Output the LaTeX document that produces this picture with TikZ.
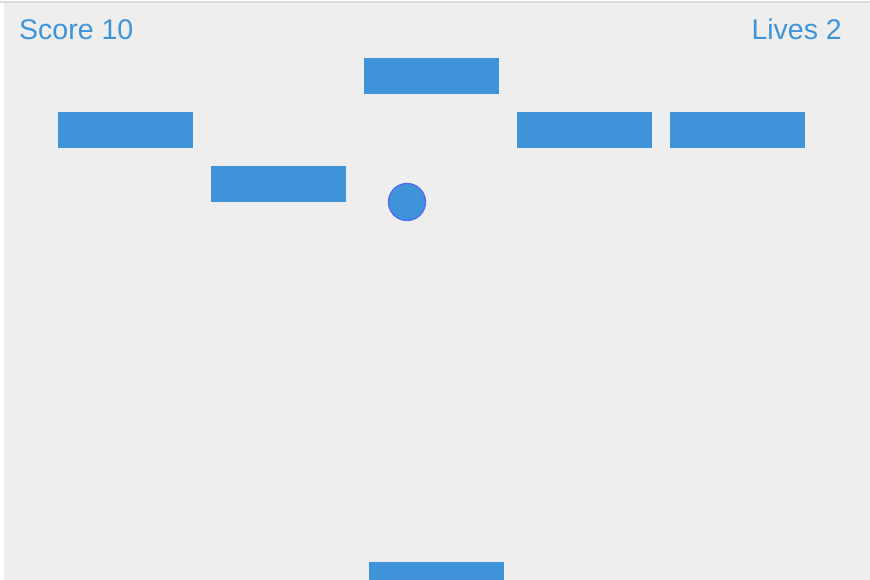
\documentclass[tikz,border=0pt]{standalone}
\usepackage{fontspec}
\setmainfont{Liberation Sans}
\definecolor{brickblue}{HTML}{3F94D9}
\definecolor{ballrim}{HTML}{5468F2}
\definecolor{board}{HTML}{EEEEEE}
\definecolor{rim}{HTML}{DCDCDC}
\tikzset{
    brick/.style={fill=brickblue,inner sep=0pt,minimum width=135pt,minimum height=36pt,anchor=north west},
    ball/.style={circle,fill=brickblue,draw=ballrim,line width=1.3pt,inner sep=0pt,minimum size=37pt},
    hud/.style={text=brickblue,font=\fontsize{28.5}{30}\selectfont,inner sep=0pt,anchor=base}
}
\begin{document}
\begin{tikzpicture}[x=1pt,y=-1pt]
    %% board
    \useasboundingbox (0,0) rectangle (870,580);
    \fill[white] (0,0) rectangle (870,580);
    \fill[board] (4,3) rectangle (870,580);
    \draw[rim,line width=2pt] (0,2) -- (870,2);
    %% score and lives
    \node[hud,anchor=base west] (score) at (19,40) {Score 10};
    \node[hud,anchor=base east] (lives) at (842,40) {Lives 2};
    %% bricks
    \node[brick] (b1) at (364,58) {};
    \node[brick] (b2) at (58,112) {};
    \node[brick] (b3) at (517,112) {};
    \node[brick] (b4) at (670,112) {};
    \node[brick] (b5) at (211,166) {};
    %% ball and paddle
    \node[ball] (ball) at (407,202) {};
    \node[brick] (paddle) at (369,562) {};
\end{tikzpicture}
\end{document}
